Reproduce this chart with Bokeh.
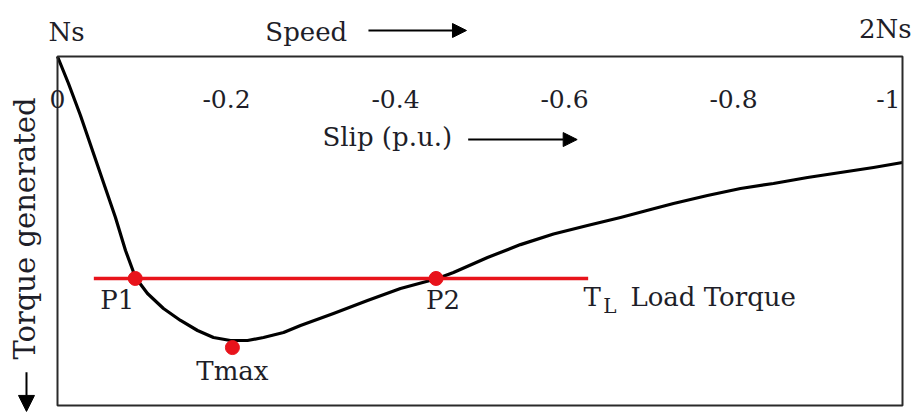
import math
from bokeh.plotting import figure
from bokeh.models import Range1d, Label, Arrow, NormalHead, ColumnDataSource, BoxAnnotation
from bokeh.embed import file_html
from bokeh.resources import INLINE

# ---- data (slip in p.u., torque generated in relative units, downwards positive) ----
slip = [0.0, -0.0130, -0.0272, -0.0414, -0.0556, -0.0686, -0.0805, -0.0923,
        -0.1065, -0.1254, -0.1456, -0.1657, -0.1846, -0.2047, -0.2249, -0.2438,
        -0.2675, -0.2876, -0.3266, -0.3669, -0.4059, -0.4497, -0.4686, -0.5089,
        -0.5479, -0.5870, -0.6272, -0.6663, -0.7053, -0.7290, -0.7692, -0.8083,
        -0.8473, -0.8876, -0.9266, -0.9657, -1.0]
torque = [0.0, 0.0774, 0.1691, 0.2693, 0.3696, 0.4613, 0.5559, 0.6332,
          0.6791, 0.7221, 0.7564, 0.7851, 0.8052, 0.8138, 0.8138, 0.8052,
          0.7908, 0.7708, 0.7364, 0.6991, 0.6648, 0.6361, 0.6189, 0.5759,
          0.5390, 0.5086, 0.4842, 0.4613, 0.4364, 0.4212, 0.3983, 0.3782,
          0.3639, 0.3467, 0.3324, 0.3181, 0.3037]

load_slip = [-0.043, -0.628]
load_torque = [0.636, 0.636]

point_names = ["P1", "P2", "Tmax"]
point_slip = [-0.092, -0.448, -0.207]
point_torque = [0.636, 0.636, 0.834]

tick_values = [0.0, -0.2, -0.4, -0.6, -0.8, -1.0]
tick_labels = ["0", "-0.2", "-0.4", "-0.6", "-0.8", "-1"]

FONT = "DejaVu Serif"
TXT = "#1e1e28"
RED = "#e8131b"

# the frame covers the whole canvas; the chart box is drawn from slip 0..-1, torque 0..1
p = figure(width=914, height=414,
           x_range=Range1d(0.067456, -1.014201), y_range=Range1d(1.025788, -0.160458),
           x_axis_type=None, y_axis_type=None, toolbar_location=None,
           output_backend="svg", min_border=0)
p.outline_line_color = None
p.background_fill_color = "white"
p.border_fill_color = "white"

p.add_layout(BoxAnnotation(left=-1.0, right=0.0, bottom=1.0, top=0.0,
                           fill_alpha=0, line_color="#2a2a2a", line_alpha=1.0,
                           line_width=2))

# curve
p.line(slip, torque, line_color="black", line_width=3.2, line_join="round")
# load torque line
p.line(load_slip, load_torque, line_color=RED, line_width=3.5)
# points
src = ColumnDataSource(dict(x=point_slip, y=point_torque, n=point_names))
p.scatter("x", "y", source=src, size=14, fill_color=RED, line_color=RED)

def lab(text, x, y, align="left", base="middle", size=26, angle=0.0, xo=0):
    p.add_layout(Label(x=x, y=y, text=text, text_align=align, text_baseline=base,
                       text_font=FONT, text_font_size=f"{size}px", text_color=TXT,
                       angle=angle, x_offset=xo))

# tick labels inside the frame
for i, (v, t) in enumerate(zip(tick_values, tick_labels)):
    if i == len(tick_values) - 1:
        lab(t, v, 0.123, align="right", xo=-2, size=25)
    else:
        lab(t, v, 0.123, align="center", size=25)

# point labels
lab(point_names[0], point_slip[0], 0.699, align="center", xo=-18)
lab(point_names[1], point_slip[1], 0.699, align="center", xo=7)
lab(point_names[2], point_slip[2], 0.90, align="center")

# load torque label
lab("T", -0.6225, 0.690)
lab("L", -0.646, 0.716, size=20)
lab("Load Torque", -0.678, 0.690)

# top labels
lab("Ns", 0.0107, -0.0716)
lab("Speed", -0.246, -0.0716)
lab("2Ns", -1.0107, -0.080, align="right")
lab("Slip (p.u.)", -0.3136, 0.232)

# axis label
lab("Torque generated", 0.039, 0.493, align="center", angle=math.pi / 2, size=29)

# arrows
def arrow(x0, y0, x1, y1, size=14):
    p.add_layout(Arrow(end=NormalHead(size=size, fill_color="black", line_color="black"),
                       x_start=x0, y_start=y0, x_end=x1, y_end=y1,
                       line_color="black", line_width=2))

arrow(-0.368, -0.0745, -0.484, -0.0745)
arrow(-0.486, 0.238, -0.615, 0.238)
arrow(0.0367, 0.905, 0.0367, 1.017, size=16)

open("out.html", "w").write(file_html(p, INLINE))
